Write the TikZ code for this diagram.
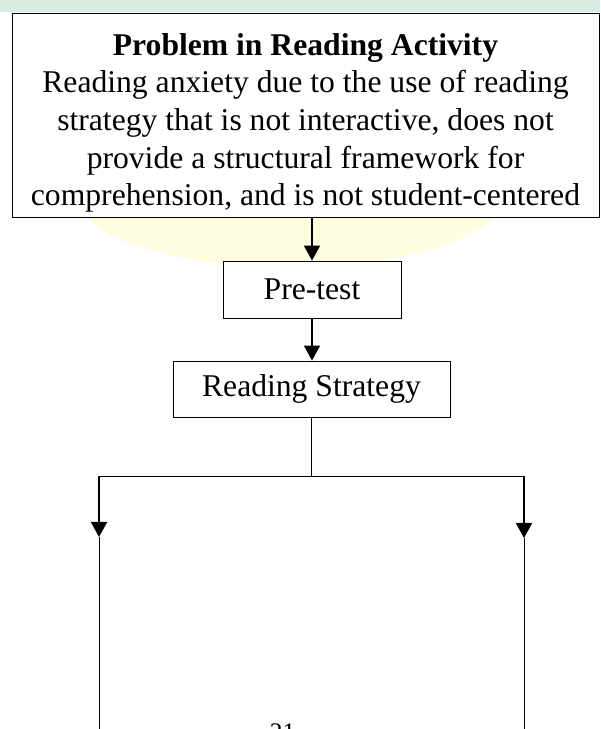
\documentclass[tikz,border=0pt]{standalone}
\usepackage{fontspec}
\setmainfont{Liberation Serif}
\usepackage{tikz}
\usetikzlibrary{positioning}
\usetikzlibrary{arrows.meta}
\usepackage{xcolor}

\definecolor{markgreen}{RGB}{216,238,226}
\definecolor{markyellow}{RGB}{255,253,224}

\tikzset{
flowbox/.style={draw, fill=white, line width=0.6pt, align=center, inner sep=0pt, font=\fontsize{22.5}{26.8}\selectfont},
flowarrow/.style={line width=1.4pt, -{Triangle[width=11.4pt,length=10.7pt]}},
flowline/.style={line width=0.6pt}
}

\begin{document}
\begin{tikzpicture}[x=0.025cm, y=-0.025cm]

\clip (0,0) rectangle (600,729);

% faint mark behind the chart
\fill[markgreen] (0,0) rectangle (600,12);
\fill[markyellow] (290,200) ellipse [x radius=210, y radius=67];

% nodes
{
\node[flowbox, minimum width=14.675cm, minimum height=5.1cm] (problem) at (305.5,115)
{\rule{0pt}{26.8pt}\textbf{Problem in Reading Activity}\\
Reading anxiety due to the use of reading\\
strategy that is not interactive, does not\\
provide a structural framework for\\
comprehension, and is not student-centered};

\node[flowbox, minimum width=4.45cm, minimum height=1.425cm] (pretest) at (312,289.5) {Pre-test};

\node[flowbox, minimum width=6.925cm, minimum height=1.4cm] (strategy) at (311.5,389) {Reading Strategy};

\node[anchor=north, inner sep=0pt, font=\fontsize{18}{20}\selectfont] (pagenum) at (282.5,723) {21};
}

\coordinate (split) at (311.5,476);
\coordinate (leftturn) at (99,476);
\coordinate (rightturn) at (524,476);
\coordinate (lefttip) at (99,537);
\coordinate (righttip) at (524,538);
\coordinate (leftend) at (99,735);
\coordinate (rightend) at (524,735);

% connectors
\draw[flowarrow] (problem.south -| pretest.north) -- (pretest.north);
\draw[flowarrow] (pretest.south) -- (pretest.south |- strategy.north);
\draw[flowline] (strategy.south) -- (split);
\draw[flowline] (leftturn) -- (rightturn);
\draw[flowarrow] (leftturn) -- (lefttip);
\draw[flowarrow] (rightturn) -- (righttip);
\draw[flowline] (lefttip) -- (leftend);
\draw[flowline] (righttip) -- (rightend);

\end{tikzpicture}
\end{document}
